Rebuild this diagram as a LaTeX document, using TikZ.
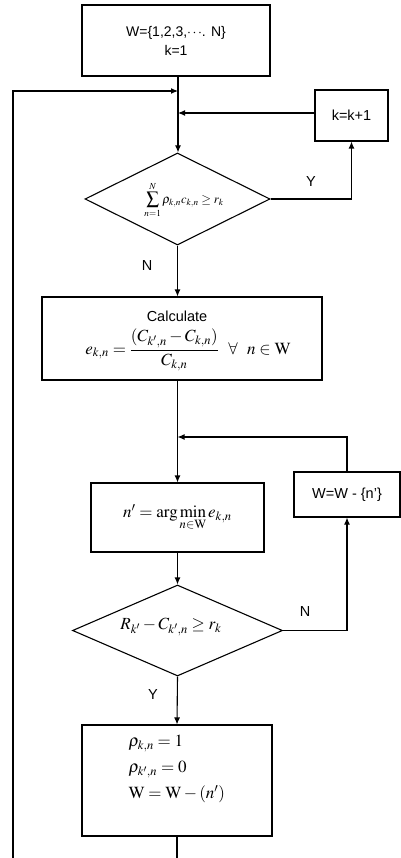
\documentclass[tikz,border=0pt]{standalone}
\usepackage{mathptmx}
\usepackage[no-math]{fontspec}
\setmainfont{Liberation Sans}
\usetikzlibrary{shapes.geometric,arrows.meta}
\begin{document}
\begin{tikzpicture}[x=1pt,y=-1pt,
  line width=1.1pt,
  box/.style={draw, line width=1.1pt, inner sep=0pt, align=center},
  dia/.style={draw, diamond, line width=1.1pt, inner sep=0pt},
  arr/.style={-{Latex[length=7pt,width=6pt]}},
  lab/.style={font=\fontsize{14.5}{18}\selectfont},
  mth/.style={font=\fontsize{17}{20}\selectfont}]
\useasboundingbox (0,0) rectangle (400,858);
% nodes
\node[box, minimum width=188pt, minimum height=71pt, font=\fontsize{14}{19}\selectfont] (top) at (176,40.5) {W=\{1,2,3,$\cdots$. N\}\\k=1};
\node[box, minimum width=73pt, minimum height=51pt, lab] (kk) at (351.5,115.5) {k=k+1};
\node[dia, minimum width=185pt, minimum height=92pt] (d1) at (177.5,199) {};
\node[font=\fontsize{12.5}{15}\selectfont, inner sep=0pt] (d1t) at (184,200) {$\displaystyle\sum_{n=1}^{N}\rho_{k,n}c_{k,n}\ge r_k$};
\node[box, minimum width=280pt, minimum height=83pt] (calc) at (182,338.5) {};
\node[lab, inner sep=0pt] (calct) at (177,316) {Calculate};
\node[mth, inner sep=0pt] (calcf) at (188,350) {$\displaystyle e_{k,n}=\frac{(C_{k',n}-C_{k,n})}{C_{k,n}}\ \ \forall\ \ n\in \mathrm{W}$};
\node[box, minimum width=106pt, minimum height=45pt, lab] (wb) at (347,494.5) {W=W - \{n'\}};
\node[box, minimum width=173pt, minimum height=69pt, mth] (nb) at (177.5,517.5) {$n'=\arg\min\limits_{n\in\mathrm{W}} e_{k,n}$};
\node[dia, minimum width=210pt, minimum height=91pt] (d2) at (177.5,630.5) {};
\node[mth] (d2t) at (171,627) {$R_{k'}-C_{k',n}\ge r_k$};
\node[box, minimum width=190pt, minimum height=111pt] (fb) at (177,780.5) {};
\node[font=\fontsize{17}{26}\selectfont, align=left, anchor=west, inner sep=0pt] (ft) at (128,769) {$\rho_{k,n}=1$\\$\rho_{k',n}=0$\\$\mathrm{W}=\mathrm{W}-(n')$};
% labels
\node[lab] (y1) at (311,182) {Y};
\node[lab] (n1) at (147,266) {N};
\node[lab] (n2) at (305,612) {N};
\node[lab] (y2) at (153,695) {Y};
% coordinates
\coordinate (lb) at (13,858);
\coordinate (lt) at (13,91);
\coordinate (j1) at (178,91);
\coordinate (j2) at (178,113);
\coordinate (j3) at (177.5,437);
\coordinate (bot) at (177,858);
% connectors
\draw[arr] (top.south -| j1) -- (d1.north -| j1);
\draw[arr] (lb) -- (lt) -- (j1);
\draw[arr] (kk.west |- j2) -- (j2);
\draw[arr] (d1.east) -| (kk.south);
\draw[arr] (d1.south) -- (d1.south |- calc.north);
\draw (calc.south -| nb.north) -- (j3);
\draw[arr] (j3) -- (nb.north);
\draw[arr] (wb.north) |- (j3);
\draw[arr] (nb.south) -- (d2.north);
\draw[arr] (d2.east) -| (wb.south);
\draw[arr] (d2.south) -- (fb.north);
\draw (fb.south) -- (bot);
\end{tikzpicture}
\end{document}
